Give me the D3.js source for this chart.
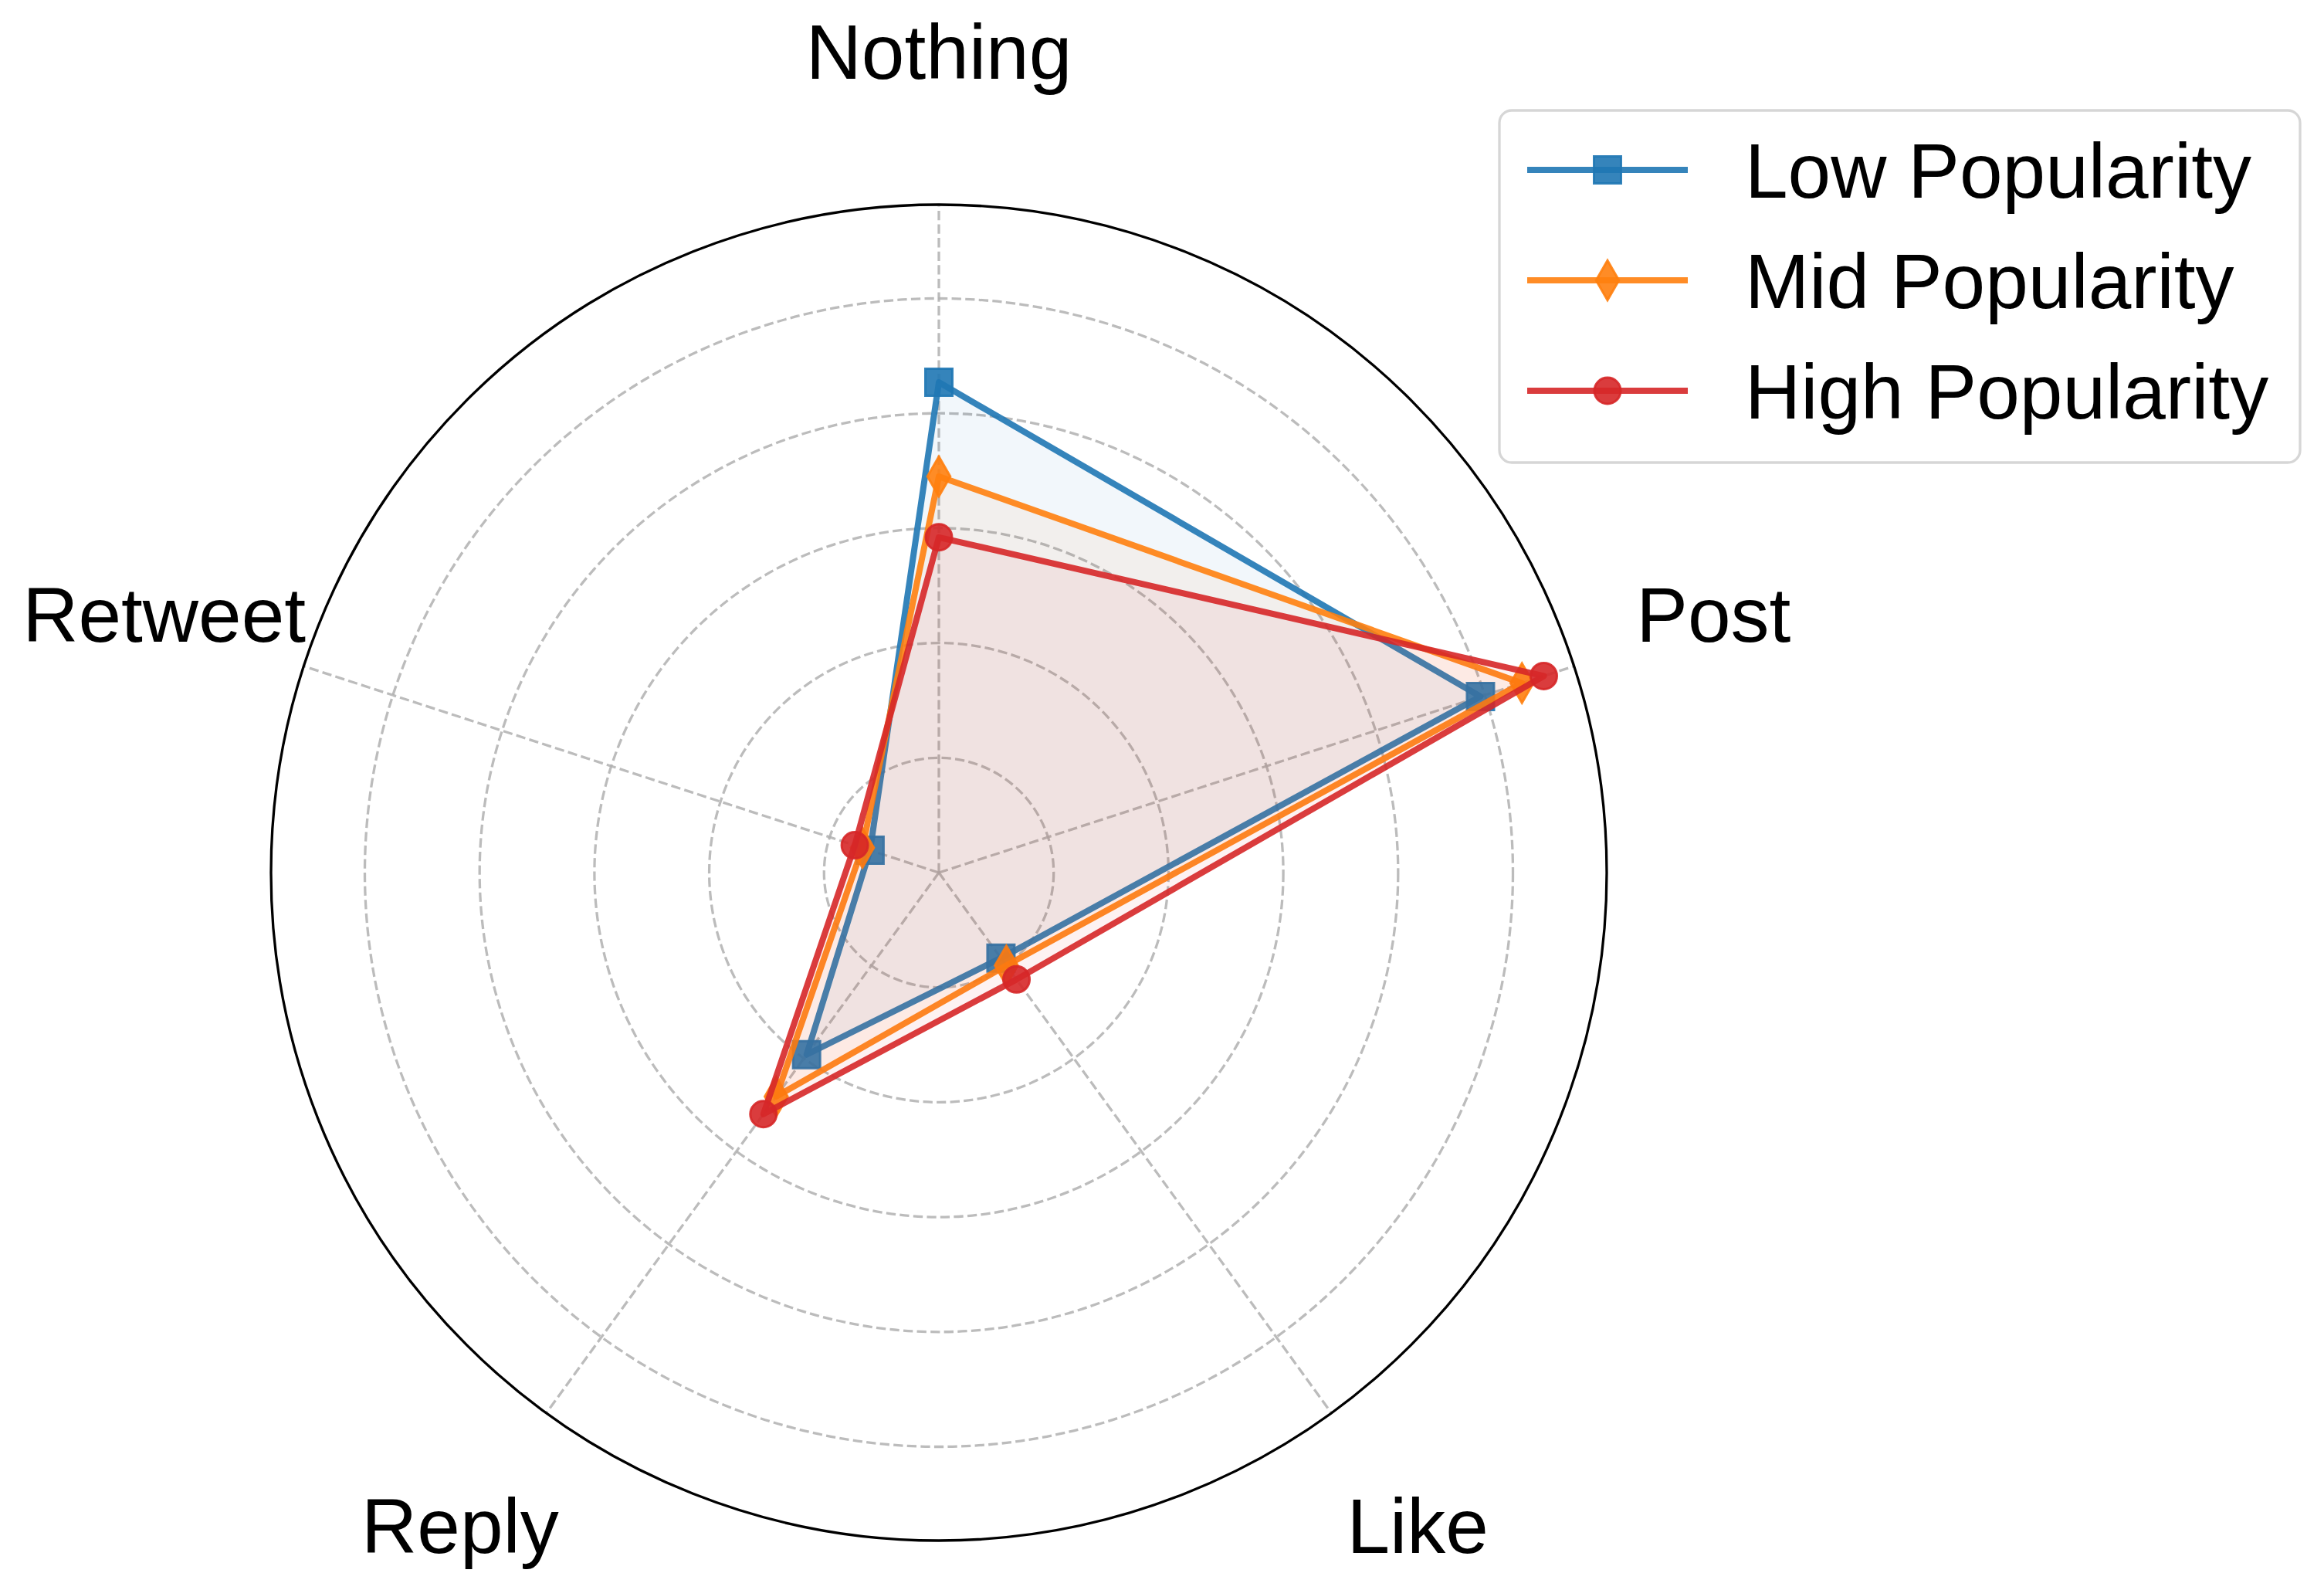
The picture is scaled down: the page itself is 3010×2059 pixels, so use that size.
<!DOCTYPE html>
<html>
<head>
<meta charset="utf-8">
<script src="https://cdn.jsdelivr.net/npm/d3@7"></script>
<style>
  body { margin: 0; background: #fff; }
  text { font-family: "Liberation Sans", Arial, sans-serif; fill: #000; }
</style>
</head>
<body>
<svg id="chart" width="3010" height="2059"></svg>
<script>
// Values (share of each action per group)
const categories = ["Nothing", "Post", "Like", "Reply", "Retweet"];
const seriesNames = ["Low Popularity", "Mid Popularity", "High Popularity"];
const lowValues  = [0.427, 0.496, 0.092, 0.196, 0.063];
const midValues  = [0.345, 0.534, 0.100, 0.241, 0.070];
const highValues = [0.292, 0.554, 0.115, 0.260, 0.077];
const gridTicks  = [0.1, 0.2, 0.3, 0.4, 0.5];

const seriesValues = [lowValues, midValues, highValues];
const colors = ["#1f77b4", "#ff7f0e", "#d62728"];

// Setting up svg + polar frame
const svg = d3.select("#chart");
const cx = 1216, cy = 1130;
const outerR = 865;
const labelR = 1055;
const fontSize = 100;

const rMax = d3.max(seriesValues.flat()) * 1.05;
const r = d3.scaleLinear().domain([0, rMax]).range([0, outerR]);
const angle = d3.scalePoint().domain(categories.concat(["_end"])).range([0, 2 * Math.PI]);

const g = svg.append("g").attr("transform", `translate(${cx},${cy})`);

const gridStyle = sel => sel
  .attr("fill", "none")
  .attr("stroke", "#b0b0b0")
  .attr("stroke-opacity", 0.85)
  .attr("stroke-width", 3.3)
  .attr("stroke-dasharray", "12.3,5.3");

// circular grid
g.selectAll("circle.grid")
  .data(gridTicks)
  .join("circle")
  .attr("class", "grid")
  .attr("r", d => r(d))
  .call(gridStyle);

// spokes
g.selectAll("line.spoke")
  .data(categories)
  .join("line")
  .attr("class", "spoke")
  .attr("x1", 0).attr("y1", 0)
  .attr("x2", d => outerR * Math.sin(angle(d)))
  .attr("y2", d => -outerR * Math.cos(angle(d)))
  .call(gridStyle);

// outer frame
g.append("circle")
  .attr("r", outerR)
  .attr("fill", "none")
  .attr("stroke", "#000")
  .attr("stroke-width", 3.3);

// category labels
g.selectAll("text.cat")
  .data(categories)
  .join("text")
  .attr("class", "cat")
  .attr("x", d => labelR * Math.sin(angle(d)))
  .attr("y", d => -labelR * Math.cos(angle(d)))
  .attr("dy", "0.27em")
  .attr("text-anchor", "middle")
  .attr("font-size", fontSize)
  .text(d => d);

// marker shapes
const markers = [
  d3.symbol().type(d3.symbolSquare).size(1225),
  d3.symbol().type(d3.symbolDiamond).size(760),
  d3.symbol().type(d3.symbolCircle).size(908)
];

const radialLine = d3.lineRadial()
  .angle((d, i) => angle(categories[i]))
  .radius(d => r(d))
  .curve(d3.curveLinearClosed);

seriesValues.forEach((vals, k) => {
  const s = g.append("g").attr("class", "series");
  s.append("path")
    .attr("d", radialLine(vals))
    .attr("fill", colors[k])
    .attr("fill-opacity", 0.06)
    .attr("stroke", "none");
  s.append("path")
    .attr("d", radialLine(vals))
    .attr("fill", "none")
    .attr("stroke", colors[k])
    .attr("stroke-opacity", 0.9)
    .attr("stroke-width", 8)
    .attr("stroke-linejoin", "round");
  s.selectAll("path.mk")
    .data(vals)
    .join("path")
    .attr("class", "mk")
    .attr("d", markers[k])
    .attr("transform", (d, i) => {
      const a = angle(categories[i]);
      return `translate(${r(d) * Math.sin(a)},${-r(d) * Math.cos(a)})`;
    })
    .attr("fill", colors[k])
    .attr("fill-opacity", 0.9)
    .attr("stroke", colors[k])
    .attr("stroke-opacity", 0.9)
    .attr("stroke-width", 3);
});

// Legend
const legend = svg.append("g").attr("transform", "translate(1942,143)");
legend.append("rect")
  .attr("width", 1037).attr("height", 456)
  .attr("rx", 16).attr("ry", 16)
  .attr("fill", "#fff").attr("fill-opacity", 0.8)
  .attr("stroke", "#d6d6d6").attr("stroke-width", 3.3);

const rowY = d3.scalePoint().domain(seriesNames).range([77, 363]);
seriesNames.forEach((name, k) => {
  const row = legend.append("g").attr("transform", `translate(0,${rowY(name)})`);
  row.append("line")
    .attr("x1", 36).attr("x2", 244)
    .attr("stroke", colors[k]).attr("stroke-opacity", 0.9)
    .attr("stroke-width", 8);
  row.append("path")
    .attr("d", markers[k])
    .attr("transform", "translate(140,0)")
    .attr("fill", colors[k]).attr("fill-opacity", 0.9)
    .attr("stroke", colors[k]).attr("stroke-opacity", 0.9)
    .attr("stroke-width", 3);
  row.append("text")
    .attr("x", 318)
    .attr("dy", "0.36em")
    .attr("font-size", fontSize)
    .text(name);
});
</script>
</body>
</html>
